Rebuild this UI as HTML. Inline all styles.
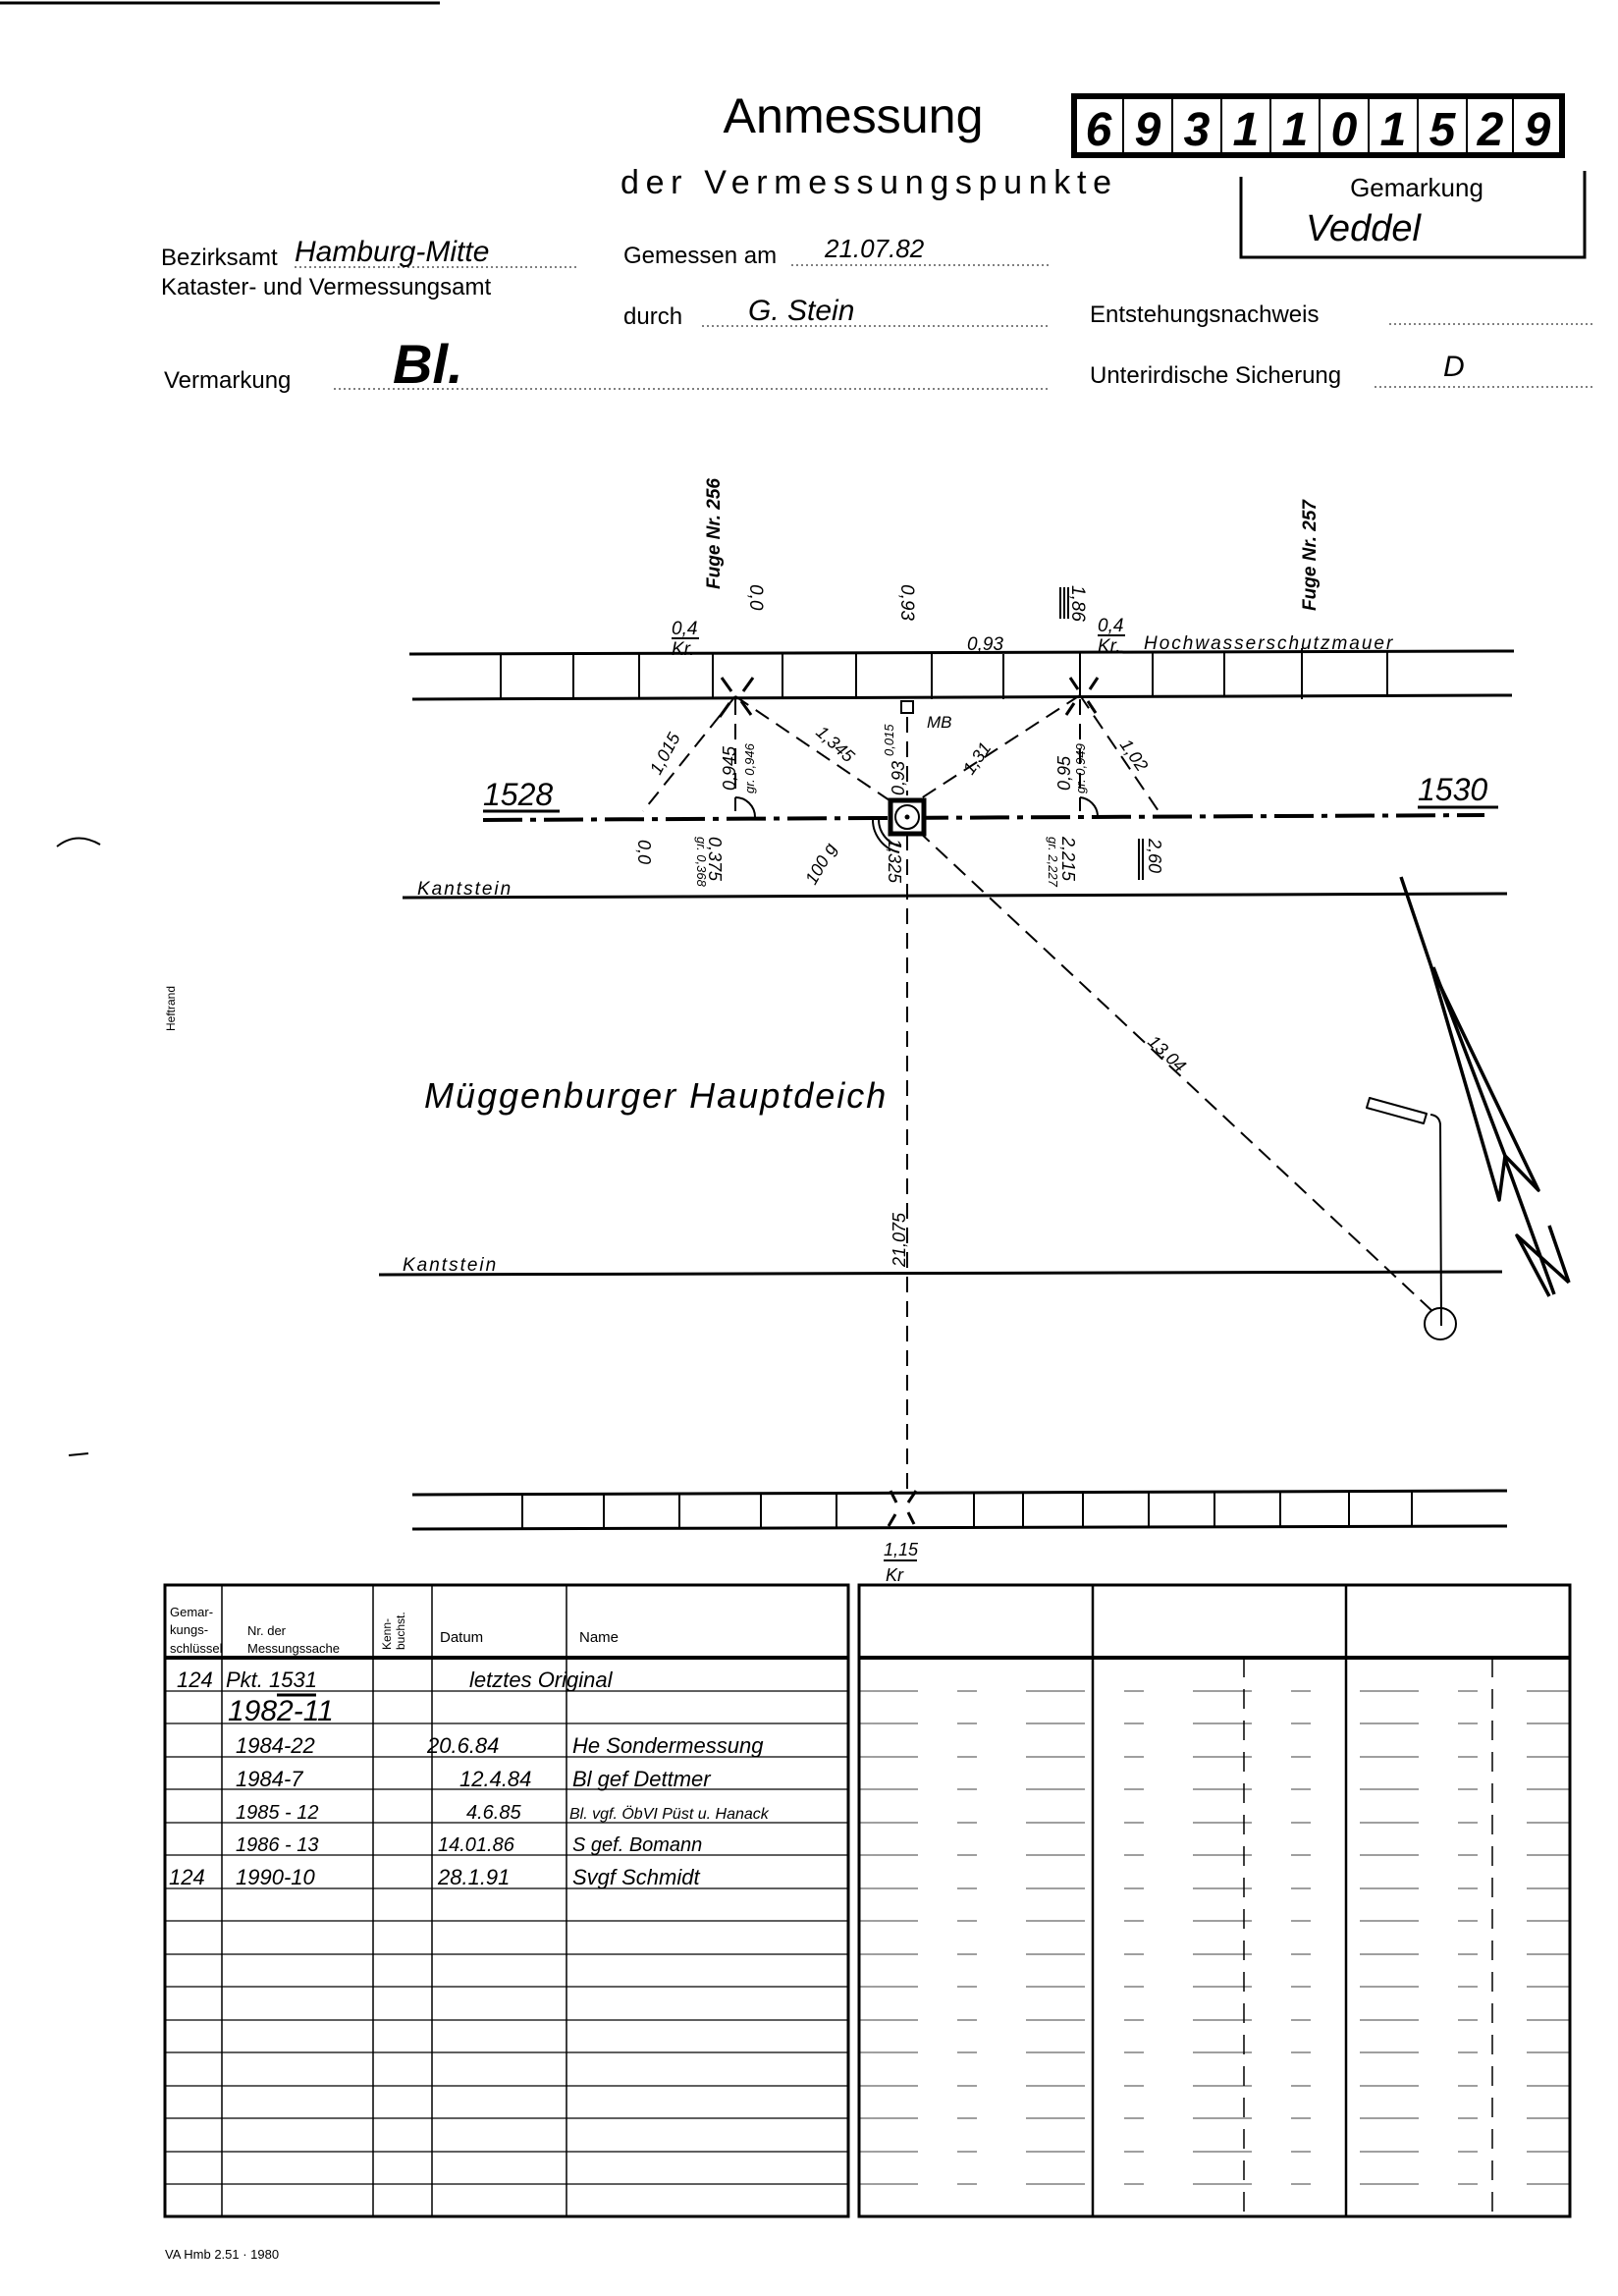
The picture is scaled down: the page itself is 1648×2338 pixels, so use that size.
<!DOCTYPE html>
<html><head><meta charset="utf-8"><style>
html,body{margin:0;padding:0;background:#fff}
svg{display:block}
text{font-family:"Liberation Sans",sans-serif;fill:#000}
.h{font-style:italic}
</style></head><body>
<svg width="1648" height="2338" viewBox="0 0 1648 2338" xmlns="http://www.w3.org/2000/svg">
<rect width="1648" height="2338" fill="#fff"/>
<line x1="0" y1="3" x2="448" y2="3" stroke="#000" stroke-width="3"/>

<!-- header -->
<text x="869" y="135" font-size="50" text-anchor="middle" textLength="265" lengthAdjust="spacingAndGlyphs">Anmessung</text>
<rect x="1094" y="98" width="497" height="60" fill="none" stroke="#000" stroke-width="6"/>
<g stroke="#000" stroke-width="2">
<line x1="1144" y1="98" x2="1144" y2="158"/><line x1="1194" y1="98" x2="1194" y2="158"/><line x1="1244" y1="98" x2="1244" y2="158"/>
<line x1="1294" y1="98" x2="1294" y2="158"/><line x1="1344" y1="98" x2="1344" y2="158"/><line x1="1394" y1="98" x2="1394" y2="158"/>
<line x1="1444" y1="98" x2="1444" y2="158"/><line x1="1494" y1="98" x2="1494" y2="158"/><line x1="1541" y1="98" x2="1541" y2="158"/>
</g>
<g font-size="48" font-weight="bold" class="h" text-anchor="middle">
<text x="1119" y="148">6</text><text x="1169" y="148">9</text><text x="1219" y="148">3</text><text x="1269" y="148">1</text><text x="1319" y="148">1</text><text x="1369" y="148">0</text><text x="1419" y="148">1</text><text x="1469" y="148">5</text><text x="1518" y="148">2</text><text x="1566" y="148">9</text>
</g>
<text x="632" y="197" font-size="34" textLength="500" lengthAdjust="spacing">der Vermessungspunkte</text>
<path d="M1264 180 V262 H1614 V174" fill="none" stroke="#000" stroke-width="3"/>
<text x="1443" y="200" font-size="26" text-anchor="middle">Gemarkung</text>
<text x="1330" y="245" font-size="38" class="h">Veddel</text>

<g font-size="24">
<text x="164" y="270">Bezirksamt</text>
<text x="164" y="300">Kataster- und Vermessungsamt</text>
<text x="635" y="268">Gemessen am</text>
<text x="635" y="330">durch</text>
<text x="1110" y="328">Entstehungsnachweis</text>
<text x="167" y="395">Vermarkung</text>
<text x="1110" y="390">Unterirdische Sicherung</text>
</g>
<g font-size="30" class="h">
<text x="300" y="266">Hamburg-Mitte</text>
<text x="840" y="262" font-size="26">21.07.82</text>
<text x="762" y="326">G. Stein</text>
<text x="1470" y="383">D</text>
</g>
<text x="400" y="390" font-size="56" font-weight="bold" class="h">Bl.</text>
<g stroke="#000" stroke-width="1" stroke-dasharray="2 3">
<line x1="300" y1="272" x2="590" y2="272"/><line x1="806" y1="270" x2="1070" y2="270"/>
<line x1="715" y1="332" x2="1070" y2="332"/><line x1="1415" y1="330" x2="1625" y2="330"/>
<line x1="340" y1="396" x2="1070" y2="396"/><line x1="1400" y1="394" x2="1625" y2="394"/>
</g>

<!-- left margin marks -->
<text transform="translate(178,1050) rotate(-90)" font-size="12">Heftrand</text>
<path d="M58 862 Q78 846 102 860" fill="none" stroke="#000" stroke-width="2"/>
<line x1="70" y1="1482" x2="90" y2="1480" stroke="#000" stroke-width="2"/>

<!-- upper wall -->
<g stroke="#000" stroke-width="3" fill="none">
<line x1="417" y1="666" x2="1542" y2="663"/>
<line x1="420" y1="712" x2="1540" y2="708"/>
</g>
<g stroke="#000" stroke-width="2">
<line x1="510" y1="666" x2="510" y2="712"/><line x1="584" y1="666" x2="584" y2="712"/><line x1="651" y1="666" x2="651" y2="712"/>
<line x1="726" y1="666" x2="726" y2="712"/><line x1="797" y1="666" x2="797" y2="712"/><line x1="872" y1="666" x2="872" y2="712"/>
<line x1="949" y1="666" x2="949" y2="712"/><line x1="1022" y1="666" x2="1022" y2="712"/><line x1="1100" y1="665" x2="1100" y2="710"/>
<line x1="1174" y1="665" x2="1174" y2="710"/><line x1="1247" y1="665" x2="1247" y2="710"/><line x1="1326" y1="660" x2="1326" y2="712"/><line x1="1413" y1="664" x2="1413" y2="710"/>
</g>
<g class="h" font-size="19">
<text transform="translate(733,600) rotate(-90)" font-weight="bold">Fuge Nr. 256</text>
<text transform="translate(1340,622) rotate(-90)" font-weight="bold">Fuge Nr. 257</text>
<text transform="translate(764,595) rotate(90)">0,0</text>
<text transform="translate(918,595) rotate(90)">0,93</text>
<text transform="translate(1092,596) rotate(90)">1,86</text>
<text x="684" y="646">0,4</text><text x="684" y="667">Kr.</text>
<text x="1118" y="643">0,4</text><text x="1118" y="664">Kr.</text>
<text x="985" y="662">0,93</text>
<text x="1165" y="661" letter-spacing="2">Hochwasserschutzmauer</text>
</g>
<g stroke="#000" stroke-width="2">
<line x1="684" y1="650" x2="712" y2="650"/><line x1="1118" y1="647" x2="1146" y2="647"/>
<line x1="1080" y1="598" x2="1080" y2="630"/><line x1="1084" y1="598" x2="1084" y2="630"/><line x1="1088" y1="598" x2="1088" y2="630"/>
</g>

<!-- crosses -->
<g stroke="#000" stroke-width="3">
<line x1="735" y1="690" x2="745" y2="704"/><line x1="755" y1="714" x2="765" y2="728"/>
<line x1="767" y1="690" x2="757" y2="704"/><line x1="743" y1="716" x2="733" y2="730"/>
<line x1="1090" y1="690" x2="1098" y2="702"/><line x1="1108" y1="714" x2="1116" y2="726"/>
<line x1="1118" y1="690" x2="1110" y2="702"/><line x1="1094" y1="716" x2="1086" y2="728"/>
<line x1="907" y1="1518" x2="913" y2="1530"/><line x1="925" y1="1540" x2="931" y2="1552"/>
<line x1="933" y1="1518" x2="925" y2="1530"/><line x1="912" y1="1542" x2="905" y2="1554"/>
</g>

<!-- dashed measurement lines -->
<g stroke="#000" stroke-width="2" stroke-dasharray="16 9" fill="none">
<line x1="749" y1="709" x2="655" y2="826"/>
<line x1="749" y1="709" x2="906" y2="815"/>
<line x1="1100" y1="708" x2="935" y2="815"/>
<line x1="1100" y1="708" x2="1180" y2="826"/>
<line x1="749" y1="712" x2="749" y2="826"/>
<line x1="1100" y1="712" x2="1100" y2="826"/>
<line x1="924" y1="730" x2="924" y2="810"/>
<line x1="924" y1="850" x2="924" y2="1520"/>
<line x1="935" y1="846" x2="1462" y2="1338"/>
</g>
<rect x="918" y="714" width="12" height="12" fill="none" stroke="#000" stroke-width="2"/>
<text x="944" y="741" font-size="17" class="h">MB</text>

<!-- main axis -->
<line x1="492" y1="835" x2="1512" y2="830" stroke="#000" stroke-width="4" stroke-dasharray="40 8 6 8"/>
<rect x="907" y="815" width="34" height="34" fill="#fff" stroke="#000" stroke-width="5"/>
<circle cx="924" cy="832" r="12" fill="none" stroke="#000" stroke-width="2"/>
<circle cx="924" cy="832" r="2.5" fill="#000"/>
<path d="M895 834 A28 28 0 0 0 918 862" fill="none" stroke="#000" stroke-width="2"/>
<path d="M889 834 A34 34 0 0 0 916 868" fill="none" stroke="#000" stroke-width="2"/>
<path d="M749 812 A20 20 0 0 1 769 832" fill="none" stroke="#000" stroke-width="2"/>
<path d="M1100 812 A20 20 0 0 1 1118 830" fill="none" stroke="#000" stroke-width="2"/>
<text x="492" y="820" font-size="32" class="h">1528</text>
<line x1="492" y1="826" x2="570" y2="826" stroke="#000" stroke-width="3"/>
<text x="1444" y="815" font-size="32" class="h">1530</text>
<line x1="1444" y1="822" x2="1526" y2="822" stroke="#000" stroke-width="3"/>

<g class="h" font-size="18">
<text transform="translate(672,790) rotate(-62)">1,015</text>
<text transform="translate(749,805) rotate(-90)">0,945</text>
<text transform="translate(768,808) rotate(-90)" font-size="13">gr. 0,946</text>
<text transform="translate(830,747) rotate(42)">1,345</text>
<text transform="translate(910,770) rotate(-90)" font-size="13">0,015</text>
<text transform="translate(921,810) rotate(-90)">0,93</text>
<text transform="translate(990,790) rotate(-55)">1,31</text>
<text transform="translate(1090,805) rotate(-90)">0,95</text>
<text transform="translate(1105,808) rotate(-90)" font-size="13">gr. 0,949</text>
<text transform="translate(1140,758) rotate(55)">1,02</text>
<text transform="translate(650,855) rotate(90)">0,0</text>
<text transform="translate(722,852) rotate(90)">0,375</text>
<text transform="translate(710,852) rotate(90)" font-size="13">gr. 0,368</text>
<text transform="translate(830,902) rotate(-60)">100 g</text>
<text transform="translate(905,854) rotate(90)">1,325</text>
<text transform="translate(1082,852) rotate(90)">2,215</text>
<text transform="translate(1068,852) rotate(90)" font-size="13">gr. 2,227</text>
<text transform="translate(1170,854) rotate(90)">2,60</text>
<text transform="translate(1168,1062) rotate(43)">13,04</text>
<text transform="translate(922,1290) rotate(-90)">21,075</text>
</g>
<g stroke="#000" stroke-width="2">
<line x1="1160" y1="854" x2="1160" y2="896"/><line x1="1164" y1="854" x2="1164" y2="896"/>
</g>

<!-- Kantstein lines -->
<line x1="410" y1="914" x2="1535" y2="910" stroke="#000" stroke-width="3"/>
<text x="425" y="911" font-size="19" class="h" letter-spacing="2">Kantstein</text>
<line x1="386" y1="1298" x2="1530" y2="1295" stroke="#000" stroke-width="3"/>
<text x="410" y="1294" font-size="19" class="h" letter-spacing="2">Kantstein</text>

<text x="432" y="1128" font-size="36" class="h" letter-spacing="2">Müggenburger Hauptdeich</text>

<!-- lamp -->
<circle cx="1467" cy="1348" r="16" fill="none" stroke="#000" stroke-width="2"/>
<path d="M1468 1350 L1467 1145 Q1466 1136 1457 1135" fill="none" stroke="#000" stroke-width="2"/>
<path d="M1395 1118 L1453 1134 L1450 1144 L1392 1128 Z" fill="none" stroke="#000" stroke-width="2" stroke-linejoin="round"/>

<!-- north arrow -->
<g stroke="#000" stroke-width="3.5" fill="none" stroke-linejoin="round">
<line x1="1427" y1="893" x2="1458" y2="985"/>
<path d="M1458 985 L1527 1222 L1533 1177 L1567 1212 L1458 985 Z"/>
<line x1="1460" y1="985" x2="1533" y2="1177"/>
<line x1="1533" y1="1180" x2="1583" y2="1318"/>
<path d="M1578 1320 L1545 1258 L1598 1306"/>
<line x1="1578" y1="1248" x2="1598" y2="1306"/>
</g>

<!-- lower wall -->
<g stroke="#000" stroke-width="3">
<line x1="420" y1="1522" x2="1535" y2="1518"/>
<line x1="420" y1="1557" x2="1535" y2="1554"/>
</g>
<g stroke="#000" stroke-width="2">
<line x1="532" y1="1521" x2="532" y2="1557"/><line x1="615" y1="1521" x2="615" y2="1557"/><line x1="692" y1="1521" x2="692" y2="1557"/>
<line x1="775" y1="1521" x2="775" y2="1557"/><line x1="852" y1="1520" x2="852" y2="1556"/><line x1="992" y1="1520" x2="992" y2="1556"/>
<line x1="1042" y1="1520" x2="1042" y2="1556"/><line x1="1103" y1="1520" x2="1103" y2="1556"/><line x1="1170" y1="1520" x2="1170" y2="1556"/>
<line x1="1237" y1="1520" x2="1237" y2="1556"/><line x1="1304" y1="1519" x2="1304" y2="1555"/><line x1="1374" y1="1519" x2="1374" y2="1555"/><line x1="1438" y1="1519" x2="1438" y2="1555"/>
</g>
<text x="900" y="1584" font-size="18" class="h">1,15</text>
<line x1="900" y1="1589" x2="934" y2="1589" stroke="#000" stroke-width="2"/>
<text x="902" y="1610" font-size="18" class="h">Kr</text>

<!-- table -->
<g stroke="#000" fill="none">
<rect x="168" y="1614" width="696" height="643" stroke-width="3"/>
<rect x="875" y="1614" width="724" height="643" stroke-width="3"/>
<line x1="168" y1="1688" x2="864" y2="1688" stroke-width="4"/>
<line x1="875" y1="1688" x2="1599" y2="1688" stroke-width="4"/>
<g stroke-width="1.5">
<line x1="226" y1="1614" x2="226" y2="2257"/><line x1="380" y1="1614" x2="380" y2="2257"/><line x1="440" y1="1614" x2="440" y2="2257"/><line x1="577" y1="1614" x2="577" y2="2257"/>
<line x1="1113" y1="1614" x2="1113" y2="2257" stroke-width="2.5"/><line x1="1371" y1="1614" x2="1371" y2="2257" stroke-width="2.5"/>
<line x1="1267" y1="1688" x2="1267" y2="2257" stroke-dasharray="20 12"/><line x1="1520" y1="1688" x2="1520" y2="2257" stroke-dasharray="20 12"/>
</g>
<g stroke-width="1.2">
<line x1="168" y1="1722" x2="864" y2="1722"/><line x1="168" y1="1755" x2="864" y2="1755"/><line x1="168" y1="1789" x2="864" y2="1789"/>
<line x1="168" y1="1822" x2="864" y2="1822"/><line x1="168" y1="1856" x2="864" y2="1856"/><line x1="168" y1="1889" x2="864" y2="1889"/>
<line x1="168" y1="1923" x2="864" y2="1923"/><line x1="168" y1="1956" x2="864" y2="1956"/><line x1="168" y1="1990" x2="864" y2="1990"/>
<line x1="168" y1="2023" x2="864" y2="2023"/><line x1="168" y1="2057" x2="864" y2="2057"/><line x1="168" y1="2090" x2="864" y2="2090"/>
<line x1="168" y1="2124" x2="864" y2="2124"/><line x1="168" y1="2157" x2="864" y2="2157"/><line x1="168" y1="2191" x2="864" y2="2191"/><line x1="168" y1="2224" x2="864" y2="2224"/>
</g>
<g stroke-width="0.8" stroke-dasharray="60 40 20 50">
<line x1="875" y1="1722" x2="1599" y2="1722"/><line x1="875" y1="1755" x2="1599" y2="1755"/><line x1="875" y1="1789" x2="1599" y2="1789"/>
<line x1="875" y1="1822" x2="1599" y2="1822"/><line x1="875" y1="1856" x2="1599" y2="1856"/><line x1="875" y1="1889" x2="1599" y2="1889"/>
<line x1="875" y1="1923" x2="1599" y2="1923"/><line x1="875" y1="1956" x2="1599" y2="1956"/><line x1="875" y1="1990" x2="1599" y2="1990"/>
<line x1="875" y1="2023" x2="1599" y2="2023"/><line x1="875" y1="2057" x2="1599" y2="2057"/><line x1="875" y1="2090" x2="1599" y2="2090"/>
<line x1="875" y1="2124" x2="1599" y2="2124"/><line x1="875" y1="2157" x2="1599" y2="2157"/><line x1="875" y1="2191" x2="1599" y2="2191"/><line x1="875" y1="2224" x2="1599" y2="2224"/>
</g>
</g>
<g font-size="13">
<text x="173" y="1646">Gemar-</text><text x="173" y="1664">kungs-</text><text x="173" y="1683">schlüssel</text>
<text x="252" y="1665">Nr. der</text><text x="252" y="1683">Messungssache</text>
<text transform="translate(398,1680) rotate(-90)" font-size="12">Kenn-</text>
<text transform="translate(412,1680) rotate(-90)" font-size="12">buchst.</text>
<text x="448" y="1672" font-size="15">Datum</text>
<text x="590" y="1672" font-size="15">Name</text>
</g>
<g class="h" font-size="22">
<text x="180" y="1718">124</text><text x="230" y="1718">Pkt. 1531</text><text x="478" y="1718">letztes Original</text>
<text x="232" y="1752" font-size="30">1982-11</text>
<text x="240" y="1785">1984-22</text><text x="435" y="1785">20.6.84</text><text x="583" y="1785">He Sondermessung</text>
<text x="240" y="1819">1984-7</text><text x="468" y="1819">12.4.84</text><text x="583" y="1819">Bl gef Dettmer</text>
<text x="240" y="1852" font-size="20">1985 - 12</text><text x="475" y="1852" font-size="20">4.6.85</text><text x="580" y="1852" font-size="16">Bl. vgf. ÖbVI Püst u. Hanack</text>
<text x="240" y="1885" font-size="20">1986 - 13</text><text x="446" y="1885" font-size="20">14.01.86</text><text x="583" y="1885" font-size="20">S gef. Bomann</text>
<text x="172" y="1919">124</text><text x="240" y="1919">1990-10</text><text x="446" y="1919">28.1.91</text><text x="583" y="1919">Svgf Schmidt</text>
</g>
<line x1="282" y1="1726" x2="322" y2="1726" stroke="#000" stroke-width="3"/>

<text x="168" y="2300" font-size="13">VA Hmb 2.51 · 1980</text>
</svg>
</body></html>
